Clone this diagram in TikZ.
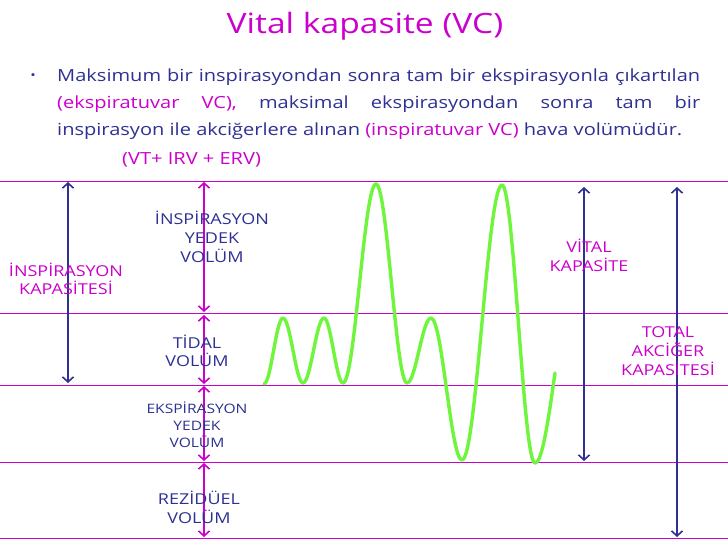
\documentclass[tikz,border=0pt]{standalone}
\usepackage{fontspec}
\setmainfont{Open Sans}[FakeStretch=1.2]
\usetikzlibrary{arrows.meta}
\definecolor{navy}{RGB}{46,49,146}
\definecolor{mag}{RGB}{204,0,204}
\definecolor{wave}{RGB}{110,245,60}
\tikzset{
  level/.style={mag, line width=0.8pt},
  navyarrow/.style={navy, line width=2.6pt, {Straight Barb[length=5pt,width=11pt,line width=1.6pt]}-{Straight Barb[length=5pt,width=11pt,line width=1.6pt]}},
  magarrow/.style={mag, line width=2.6pt, {Straight Barb[length=5pt,width=11pt,line width=1.6pt]}-{Straight Barb[length=5pt,width=11pt,line width=1.6pt]}},
  navylabel/.style={navy, align=center, inner sep=0pt},
  maglabel/.style={mag, align=center, inner sep=0pt},
  bodyline/.style={navy, anchor=base west, inner sep=0pt, font=\fontsize{16.7}{20}\selectfont},
}
\begin{document}
\begin{tikzpicture}[x=1pt,y=-1pt]
\useasboundingbox (0,0) rectangle (728,546);
\fill[white] (0,0) rectangle (728,546);
% title and text
\node[mag, anchor=base, inner sep=0pt, font=\fontsize{28}{34}\selectfont] (title) at (365,33) {Vital kapasite (VC)};
\node[navy, anchor=base, inner sep=0pt, font=\fontsize{12}{14}\selectfont] (bullet) at (33,79) {•};
\node[bodyline] (t1) at (57,81) {\makebox[643pt][s]{Maksimum bir inspirasyondan sonra tam bir ekspirasyonla çıkartılan}};
\node[bodyline] (t2) at (57,108) {\makebox[643pt][s]{{\color{mag}(ekspiratuvar VC),} maksimal ekspirasyondan sonra tam bir}};
\node[bodyline] (t3) at (57,135) {inspirasyon ile akciğerlere alınan {\color{mag}(inspiratuvar VC)} hava volümüdür.};
\node[bodyline, mag] (t4) at (122,164) {(VT+ IRV + ERV)};
% level lines
\foreach \y/\n in {181/a,313/b,385/c,462/d,538/e}{
  \coordinate (\n L) at (0,\y);
  \coordinate (\n R) at (728,\y);
  \draw[level] (\n L) -- (\n R);
}
% arrows
\coordinate (ic1) at (68,182); \coordinate (ic2) at (68,383);
\draw[navyarrow] (ic1) -- (ic2);
\coordinate (m1) at (204,182); \coordinate (m2) at (204,312);
\coordinate (m3) at (204,315); \coordinate (m4) at (204,384);
\coordinate (m5) at (204,386); \coordinate (m6) at (204,461);
\coordinate (m7) at (204,463); \coordinate (m8) at (204,537);
\draw[magarrow] (m1) -- (m2);
\draw[magarrow] (m3) -- (m4);
\draw[magarrow] (m5) -- (m6);
\draw[magarrow] (m7) -- (m8);
\coordinate (vc1) at (584,187); \coordinate (vc2) at (584,461);
\draw[navyarrow] (vc1) -- (vc2);
\coordinate (tl1) at (677,187); \coordinate (tl2) at (677,537);
\draw[navyarrow] (tl1) -- (tl2);
% wave
\draw[wave, line width=3.4pt, line cap=round, line join=round]
  (264,384) cos (273.5,351) sin (283,318) cos (293,350.5) sin (303,383)
  cos (313.5,350.5) sin (324,318) cos (333.5,350.5) sin (343,383)
  cos (359.5,283.5) sin (376,184) cos (391.5,283.5) sin (407,383)
  cos (419,350.5) sin (431,318) cos (446.5,389) sin (462,460)
  cos (482,322.5) sin (502,185) cos (518.5,324) sin (535,463)
  cos (555,373);
% labels
\node[navylabel, font=\fontsize{15}{19}\selectfont] (irv) at (212,237) {İNSPİRASYON\\YEDEK\\VOLÜM};
\node[maglabel, font=\fontsize{15}{18}\selectfont] (ic) at (66,279) {İNSPİRASYON\\KAPASİTESİ};
\node[navylabel, font=\fontsize{15}{18}\selectfont] (tv) at (197,351) {TİDAL\\VOLÜM};
\node[navylabel, font=\fontsize{13}{17}\selectfont] (erv) at (197,425) {EKSPİRASYON\\YEDEK\\VOLÜM};
\node[navylabel, font=\fontsize{15}{19}\selectfont] (rv) at (199,507) {REZİDÜEL\\VOLÜM};
\node[maglabel, font=\fontsize{15}{19}\selectfont] (vc) at (589,255) {VİTAL\\KAPASİTE};
\node[maglabel, font=\fontsize{15}{19}\selectfont] (tlc) at (668,351) {TOTAL\\AKCİĞER\\KAPASİTESİ};
\end{tikzpicture}
\end{document}
